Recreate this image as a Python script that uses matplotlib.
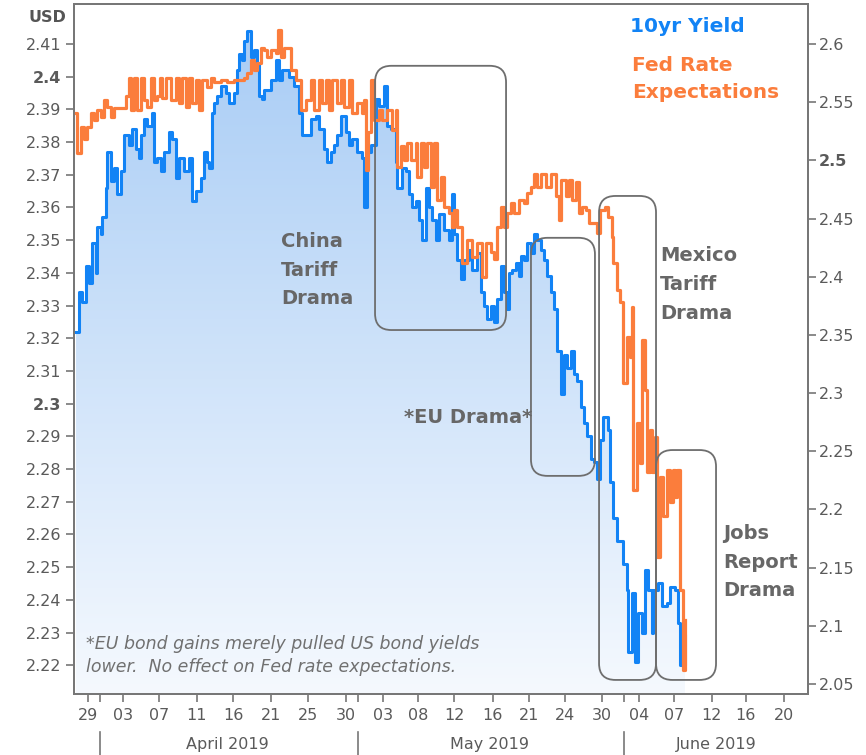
import numpy as np
import matplotlib
matplotlib.use("Agg")
import matplotlib.pyplot as plt
import matplotlib.transforms as mtransforms
from matplotlib.patches import FancyBboxPatch
from matplotlib.lines import Line2D
from matplotlib.colors import LinearSegmentedColormap

# x = trading sessions since Fri 29 Mar 2019
yield_t = [-1.05, -0.77, -0.51, -0.17, 0.09, 0.34, 0.68, 0.77, 1.11, 1.20, 1.54, 1.62, 1.97, 2.22, 2.48,
           2.82, 3.08, 3.50, 3.76, 4.10, 4.36, 4.53, 4.79, 5.04, 5.47, 5.64, 5.90, 6.24, 6.50, 6.92,
           7.18, 7.52, 7.78, 8.21, 8.63, 8.89, 9.23, 9.66, 9.91, 10.17, 10.34, 10.60, 10.77, 11.03, 11.37,
           11.79, 12.05, 12.48, 12.74, 12.91, 13.16, 13.33, 13.59, 13.93, 14.19, 14.44, 14.62, 14.87, 15.04,
           15.64, 16.07, 16.32, 16.58, 17.18, 17.61, 18.03, 18.29, 18.72, 19.06, 19.49, 19.74, 20.17, 20.43,
           20.77, 21.03, 21.28, 21.62, 22.05, 22.31, 22.56, 22.99, 23.42, 23.59, 23.85, 24.19, 24.62, 24.87,
           25.30, 25.56, 25.90, 26.32, 26.41, 26.84, 27.18, 27.44, 27.69, 28.03, 28.29, 28.55, 28.89, 29.15,
           29.40, 29.74, 30.00, 30.43, 30.85, 31.11, 31.28, 31.54, 31.88, 32.14, 32.56, 32.82, 33.25, 33.59,
           33.85, 34.10, 34.44, 34.70, 34.96, 35.30, 35.56, 35.81, 35.98, 36.24, 36.58, 36.84, 37.01, 37.26,
           37.52, 37.86, 38.12, 38.38, 38.72, 38.97, 39.23, 39.57, 39.83, 40.09, 40.43, 40.68, 40.94, 41.28,
           41.54, 41.79, 42.14, 42.39, 42.65, 42.99, 43.25, 43.50, 43.76, 44.02, 44.44, 44.62, 44.87, 45.21,
           45.47, 45.73, 46.07, 46.15, 46.50, 46.75, 47.01, 47.35, 47.61, 47.86, 48.21, 48.29, 48.72, 49.06,
           49.49, 49.74, 50.17, 50.43, 50.60, 51.03]
yield_val = [2.322, 2.334, 2.331, 2.342, 2.337, 2.349, 2.340, 2.354, 2.352, 2.357, 2.366, 2.377, 2.368, 2.372, 2.364,
             2.371, 2.382, 2.379, 2.384, 2.378, 2.375, 2.382, 2.387, 2.385, 2.389, 2.374, 2.375, 2.371, 2.377, 2.383,
             2.381, 2.369, 2.375, 2.371, 2.375, 2.362, 2.365, 2.369, 2.377, 2.374, 2.372, 2.389, 2.392, 2.394, 2.397,
             2.395, 2.392, 2.395, 2.402, 2.407, 2.405, 2.411, 2.414, 2.406, 2.408, 2.404, 2.394, 2.393, 2.396,
             2.399, 2.405, 2.399, 2.402, 2.400, 2.397, 2.389, 2.382, 2.382, 2.387, 2.388, 2.384, 2.378, 2.374,
             2.377, 2.379, 2.382, 2.388, 2.383, 2.379, 2.381, 2.377, 2.375, 2.360, 2.377, 2.379, 2.393, 2.391,
             2.397, 2.385, 2.384, 2.374, 2.366, 2.372, 2.371, 2.364, 2.360, 2.362, 2.356, 2.350, 2.366, 2.360,
             2.356, 2.350, 2.358, 2.353, 2.350, 2.364, 2.352, 2.344, 2.338, 2.344, 2.347, 2.341, 2.346, 2.334,
             2.330, 2.326, 2.330, 2.325, 2.332, 2.342, 2.334, 2.329, 2.340, 2.341, 2.343, 2.339, 2.345, 2.344,
             2.349, 2.346, 2.352, 2.350, 2.347, 2.344, 2.339, 2.334, 2.329, 2.316, 2.303, 2.315, 2.311, 2.316,
             2.309, 2.307, 2.299, 2.294, 2.290, 2.283, 2.282, 2.277, 2.289, 2.296, 2.292, 2.276, 2.265, 2.258,
             2.258, 2.251, 2.243, 2.224, 2.242, 2.221, 2.236, 2.230, 2.249, 2.243, 2.230, 2.243, 2.245, 2.238,
             2.239, 2.244, 2.243, 2.233, 2.220, 2.229]

fed_t = [-1.05, -0.94, -0.60, -0.34, -0.09, 0.26, 0.51, 0.77, 1.11, 1.37, 1.62, 1.97, 2.22, 2.82, 3.25,
         3.50, 3.68, 3.93, 4.19, 4.53, 4.79, 5.04, 5.38, 5.64, 5.90, 6.15, 6.32, 6.67, 7.09, 7.52,
         7.78, 8.03, 8.38, 8.63, 8.89, 9.23, 9.49, 9.74, 10.17, 10.51, 10.77, 11.37, 11.88, 12.48, 13.08,
         13.33, 13.59, 13.93, 14.19, 14.44, 14.79, 15.04, 15.30, 15.64, 16.07, 16.24, 16.50, 16.75, 17.01,
         17.35, 17.78, 18.21, 18.63, 19.06, 19.32, 19.74, 20.00, 20.34, 20.60, 20.85, 21.28, 21.62, 21.88,
         22.31, 22.56, 22.99, 23.42, 23.59, 23.76, 23.93, 24.19, 24.44, 24.87, 25.13, 25.56, 25.98, 26.32,
         26.41, 26.75, 27.01, 27.26, 27.61, 28.03, 28.12, 28.46, 28.72, 28.97, 29.32, 29.57, 29.83, 30.17,
         30.43, 30.85, 31.11, 31.28, 31.54, 31.97, 32.39, 32.82, 33.25, 33.68, 34.02, 34.44, 34.70, 34.96,
         35.30, 35.56, 35.81, 36.15, 36.41, 36.84, 37.26, 37.52, 37.86, 38.12, 38.38, 38.72, 39.15, 39.57,
         40.00, 40.26, 40.43, 40.85, 41.11, 41.37, 41.71, 41.97, 42.22, 42.56, 42.82, 43.16, 43.50, 43.76,
         44.19, 44.44, 44.79, 44.87, 45.21, 45.47, 45.73, 46.07, 46.32, 46.50, 46.58, 46.92, 47.18, 47.35,
         47.61, 47.78, 48.03, 48.21, 48.46, 48.63, 48.89, 49.15, 49.49, 49.74, 50.00, 50.17, 50.34, 50.60,
         50.85, 51.03]
fed_val = [2.541, 2.506, 2.529, 2.518, 2.529, 2.541, 2.535, 2.543, 2.537, 2.552, 2.546, 2.537, 2.545, 2.545, 2.555,
           2.571, 2.543, 2.571, 2.543, 2.571, 2.552, 2.546, 2.571, 2.552, 2.555, 2.571, 2.554, 2.571, 2.552, 2.571,
           2.549, 2.571, 2.546, 2.571, 2.549, 2.569, 2.543, 2.569, 2.563, 2.571, 2.567, 2.569, 2.567, 2.569, 2.569,
           2.571, 2.575, 2.586, 2.578, 2.584, 2.597, 2.595, 2.589, 2.595, 2.592, 2.612, 2.589, 2.597, 2.597,
           2.578, 2.569, 2.543, 2.552, 2.569, 2.543, 2.569, 2.549, 2.569, 2.543, 2.569, 2.549, 2.569, 2.546,
           2.569, 2.541, 2.549, 2.541, 2.552, 2.492, 2.524, 2.569, 2.535, 2.543, 2.535, 2.543, 2.526, 2.543,
           2.494, 2.512, 2.500, 2.515, 2.500, 2.515, 2.486, 2.515, 2.494, 2.515, 2.477, 2.515, 2.466, 2.486,
           2.460, 2.455, 2.443, 2.457, 2.443, 2.412, 2.432, 2.417, 2.429, 2.400, 2.429, 2.421, 2.415, 2.443,
           2.460, 2.443, 2.455, 2.463, 2.455, 2.466, 2.463, 2.472, 2.477, 2.488, 2.477, 2.488, 2.477, 2.488,
           2.469, 2.449, 2.483, 2.469, 2.483, 2.466, 2.481, 2.455, 2.460, 2.457, 2.446, 2.446, 2.438, 2.457,
           2.460, 2.451, 2.434, 2.412, 2.389, 2.378, 2.309, 2.348, 2.331, 2.374, 2.217, 2.274, 2.240, 2.346,
           2.303, 2.232, 2.268, 2.232, 2.262, 2.159, 2.228, 2.194, 2.234, 2.206, 2.234, 2.211, 2.234, 2.131,
           2.062, 2.105]

day_ticks = [0, 3.0, 6.07, 9.3, 12.4, 15.6, 18.8, 22.05, 25.2, 28.2, 31.3, 34.6, 37.7, 40.8, 43.9,
             47.1, 50.1, 53.3, 56.2, 59.5]
day_labels = ['29', '03', '07', '11', '16', '21', '25', '30', '03', '08', '12', '16', '21', '24', '30',
              '04', '07', '12', '16', '20']
month_starts = [1.03, 23.1, 45.8]
month_names = ['April 2019', 'May 2019', 'June 2019']
month_centers = [11.9, 34.3, 53.7]

left_ticks = [2.22, 2.23, 2.24, 2.25, 2.26, 2.27, 2.28, 2.29, 2.3, 2.31, 2.32, 2.33, 2.34, 2.35,
              2.36, 2.37, 2.38, 2.39, 2.4, 2.41]
right_ticks = [2.05, 2.1, 2.15, 2.2, 2.25, 2.3, 2.35, 2.4, 2.45, 2.5, 2.55, 2.6]

BLUE = '#1283f5'
ORANGE = '#fb7d3c'
GREY = '#676767'
TICKC = '#5a5a5a'

XLIM = (-1.2, 61.54)
YL = (2.2112, 2.4222)
YR = (2.0414, 2.6344)

fig = plt.figure(figsize=(8.66, 7.55), dpi=100)
ax = fig.add_axes([0.0855, 0.0808, 0.8475, 0.9139])
ax2 = ax.twinx()

# gradient fill under the yield line
poly = ax.fill_between(yield_t, yield_val, YL[0], step='post', color='none', lw=0)
grad = np.linspace(0, 1, 256).reshape(-1, 1)
cmap = LinearSegmentedColormap.from_list('fill', ['#f5f9fe', '#a6cbf5'])
img = ax.imshow(grad, cmap=cmap, aspect='auto', origin='lower',
                extent=[XLIM[0], XLIM[1], YL[0], YL[1]], zorder=1)
img.set_clip_path(poly.get_paths()[0], ax.transData)

ax.plot(yield_t, yield_val, drawstyle='steps-post', color=BLUE, lw=2.2, zorder=3)
ax2.plot(fed_t, fed_val, drawstyle='steps-post', color=ORANGE, lw=2.3, zorder=3)

ax.set_xlim(*XLIM)
ax.set_ylim(*YL)
ax2.set_ylim(*YR)

ax.set_yticks(left_ticks)
ax.set_yticklabels(['%g' % v for v in left_ticks])
ax2.set_yticks(right_ticks)
ax2.set_yticklabels(['%g' % v for v in right_ticks])
for lab, v in zip(ax.get_yticklabels(), left_ticks):
    if abs(v * 10 - round(v * 10)) < 1e-6:
        lab.set_fontweight('bold')
        lab.set_color('#404040')
for lab, v in zip(ax2.get_yticklabels(), right_ticks):
    if abs(v - 2.5) < 1e-6:
        lab.set_fontweight('bold')
        lab.set_color('#404040')

ax.set_xticks(day_ticks)
ax.set_xticklabels(day_labels)
ax.set_xticks(month_starts, minor=True)

for a in (ax, ax2):
    a.tick_params(axis='both', which='both', direction='out', length=6, width=1.2,
                  color='#777777', labelcolor=TICKC, labelsize=11.5)
    for s in a.spines.values():
        s.set_color('#777777')
        s.set_linewidth(1.4)
ax.tick_params(axis='x', pad=4)
ax.tick_params(axis='y', pad=3)
ax2.tick_params(axis='y', pad=2)

# month labels and separators
trans = mtransforms.blended_transform_factory(ax.transData, ax.transAxes)
for xs in month_starts:
    ax.add_line(Line2D([xs, xs], [-0.055, -0.09], transform=trans, color='#777777',
                       lw=1.2, clip_on=False))
for xc, name in zip(month_centers, month_names):
    ax.text(xc, -0.073, name, transform=trans, ha='center', va='center',
            fontsize=11.5, color=TICKC)

fig.text(0.055, 0.977, 'USD', ha='center', va='center', fontsize=11.5,
         fontweight='bold', color='#555555')

# drama boxes (left-axis data units)
boxes = [(24.53, 2.3225, 11.2, 0.0808),
         (37.86, 2.2779, 5.47, 0.0728),
         (43.68, 2.2155, 4.87, 0.1480),
         (48.55, 2.2155, 5.13, 0.0703)]
aspect = (YL[1] - YL[0]) / 690.0 / ((XLIM[1] - XLIM[0]) / 734.0)
for x0, y0, w, h in boxes:
    p = FancyBboxPatch((x0, y0), w, h, boxstyle='round,pad=0,rounding_size=1.4',
                       mutation_aspect=aspect, transform=ax.transData,
                       fill=False, edgecolor='#6e6e6e', lw=1.3, zorder=5)
    ax2.add_patch(p)

def note(x, y, s, **kw):
    ax2.text(x, y, s, transform=ax.transData, fontsize=14, fontweight='bold',
             color=GREY, va='top', ha='left', linespacing=1.65, zorder=6, **kw)

note(16.5, 2.3525, 'China\nTariff\nDrama')
note(48.9, 2.3481, 'Mexico\nTariff\nDrama')
note(54.3, 2.2632, 'Jobs\nReport\nDrama')
ax2.text(32.5, 2.2959, '*EU Drama*', transform=ax.transData, fontsize=14, fontweight='bold',
         color=GREY, ha='center', va='center', zorder=6)

# legend text
ax2.text(0.758, 0.967, '10yr Yield', transform=ax.transAxes, fontsize=14.5,
         fontweight='bold', color=BLUE, ha='left', va='center')
ax2.text(0.760, 0.924, 'Fed Rate\nExpectations', transform=ax.transAxes, fontsize=14.5,
         fontweight='bold', color=ORANGE, ha='left', va='top', linespacing=1.5)

ax2.text(0.016, 0.085, '*EU bond gains merely pulled US bond yields\nlower.  No effect on Fed rate expectations.',
         transform=ax.transAxes, fontsize=12.5, style='italic', color='#707070',
         ha='left', va='top', linespacing=1.35)

ax2.set_xlim(*XLIM)
fig.savefig('out.png', dpi=100)
